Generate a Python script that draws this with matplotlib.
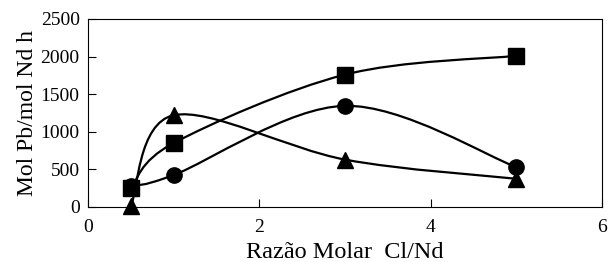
import numpy as np
import matplotlib
matplotlib.use("Agg")
import matplotlib.pyplot as plt
from matplotlib.path import Path
from matplotlib.patches import PathPatch

plt.rcParams['font.family'] = ['Liberation Serif', 'DejaVu Serif']

x = [0.5, 1, 3, 5]
squares = [250, 850, 1760, 2010]
circles = [280, 425, 1345, 530]
triangles = [10, 1220, 630, 375]
xticks = [0, 2, 4, 6]
yticks = [0, 500, 1000, 1500, 2000, 2500]


def smooth_path(xs, ys):
    pts = np.column_stack([xs, ys]).astype(float)
    n = len(pts)
    verts = [pts[0]]
    codes = [Path.MOVETO]
    for i in range(n - 1):
        p0 = pts[i - 1] if i > 0 else pts[i]
        p1 = pts[i]
        p2 = pts[i + 1]
        p3 = pts[i + 2] if i + 2 < n else pts[i + 1]
        c1 = p1 + (p2 - p0) / 6.0
        c2 = p2 - (p3 - p1) / 6.0
        verts += [c1, c2, p2]
        codes += [Path.CURVE4] * 3
    return Path(verts, codes)


fig = plt.figure(figsize=(6.09, 2.62), dpi=100)
ax = fig.add_axes([0.1445, 0.21, 0.844, 0.7176])

for ys, m, ms in [(squares, 's', 11), (circles, 'o', 11), (triangles, '^', 12)]:
    ax.add_patch(PathPatch(smooth_path(x, ys), facecolor='none', edgecolor='black', lw=1.6, zorder=2))
    ax.plot(x, ys, linestyle='none', marker=m, markersize=ms, color='black', zorder=3, clip_on=False)

ax.set_xlim(0, 6)
ax.set_ylim(0, 2500)
ax.set_xticks(xticks)
ax.set_yticks(yticks)
ax.tick_params(direction='in', length=6, width=0.8, labelsize=14)
ax.tick_params(axis='x', pad=9)
ax.tick_params(axis='y', pad=6)
for s in ax.spines.values():
    s.set_linewidth(0.8)
ax.set_xlabel('Razão Molar  Cl/Nd', fontsize=17.5, labelpad=4)
ax.set_ylabel('Mol Pb/mol Nd h', fontsize=17, labelpad=2)

fig.savefig('out.png', dpi=100)
